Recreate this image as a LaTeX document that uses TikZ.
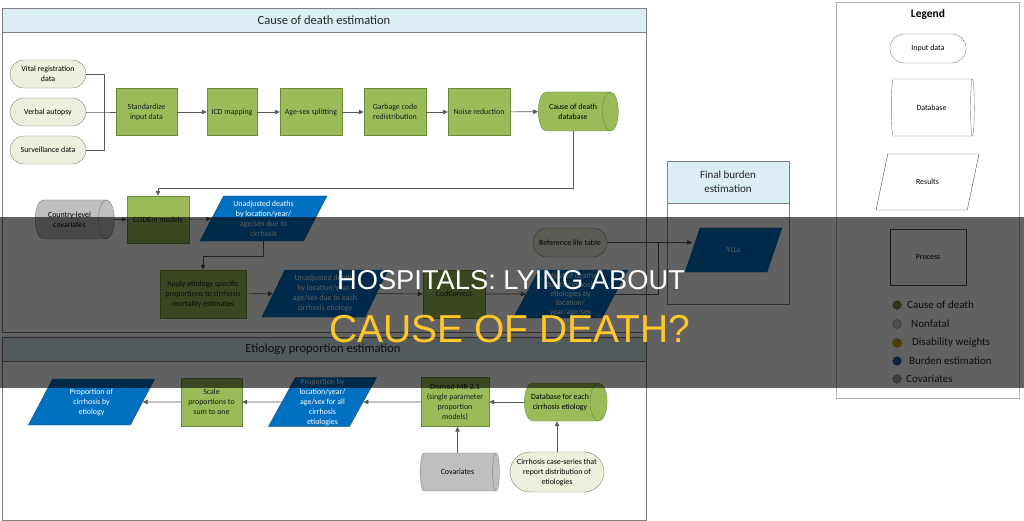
\documentclass[tikz,border=0pt]{standalone}
\usepackage{fontspec}
\setmainfont{Carlito}
\newfontfamily\headfont{Liberation Sans}
\usetikzlibrary{arrows.meta,positioning,shapes.geometric}
\definecolor{procgreen}{HTML}{9BBB59}
\definecolor{procline}{HTML}{6F8A3A}
\definecolor{resblue}{HTML}{0070C0}
\definecolor{resline}{HTML}{1F4E79}
\definecolor{cylgray}{HTML}{BFBFBF}
\definecolor{inputbg}{HTML}{EBF1DE}
\definecolor{edgegray}{HTML}{7F7F7F}
\definecolor{linegray}{HTML}{595959}
\definecolor{titlebg}{HTML}{DAEEF3}
\definecolor{dotgreen}{HTML}{77933C}
\definecolor{dotlight}{HTML}{D0D0D0}
\definecolor{dotgold}{HTML}{C9A000}
\definecolor{dotblue}{HTML}{1F63A8}
\definecolor{dotgray}{HTML}{A6A6A6}
\definecolor{headyellow}{HTML}{FFC72C}

\begin{document}
\begin{tikzpicture}[x=1pt,y=-1pt,
  lbl/.style={font=\fontsize{7.9}{10}\selectfont, align=center, inner sep=1pt},
  ttl/.style={font=\fontsize{12.5}{14}\selectfont, text=black!85, inner sep=0pt},
  frame/.style={draw=edgegray, line width=0.6pt},
  proc/.style={lbl, draw=procline, fill=procgreen, text=black!90, minimum width=62pt, minimum height=47pt},
  inp/.style={lbl, draw=edgegray, fill=inputbg, rounded corners=14pt, minimum width=76pt, minimum height=28pt},
  dbase/.style={lbl, cylinder, shape aspect=0.9, draw=edgegray, fill=cylgray, minimum height=79pt, minimum width=38pt},
  gdbase/.style={dbase, draw=procline, fill=procgreen},
  res/.style={lbl, trapezium, trapezium left angle=64, trapezium right angle=116, trapezium stretches=true, draw=resline, fill=resblue, text=white},
  link/.style={draw=linegray, line width=0.6pt},
  arr/.style={link, -{Triangle[length=5pt,width=4.5pt]}}]
\useasboundingbox (0,0) rectangle (1024,521);
\fill[white] (0,0) rectangle (1024,521);

% section frames
\draw[frame, fill=white] (2,8) rectangle (646,332);
\draw[frame, fill=titlebg] (2,8) rectangle (646,32);
\node[ttl] (cdtitle) at (324,20) {Cause of death estimation};
\draw[frame, fill=white] (2,337) rectangle (646,520);
\draw[frame, fill=titlebg] (2,337) rectangle (646,361);
\node[ttl] (eptitle) at (323,349) {Etiology proportion estimation};
\draw[frame, fill=white] (667,161) rectangle (789,304);
\draw[frame, fill=titlebg] (667,161) rectangle (789,203);
\node[ttl, font=\fontsize{11}{14}\selectfont, align=center] (fbtitle) at (728,182) {Final burden\\estimation};
\draw[draw=black!30, line width=0.6pt] (836,2) rectangle (1019,398);

% cause of death estimation
\node[inp] (vr) at (48,74) {Vital registration\\data};
\node[inp] (va) at (48,112) {Verbal autopsy};
\node[inp] (sv) at (48,150) {Surveillance data};
\coordinate (jn) at (104,112);
\node[proc, minimum width=61pt] (std) at (146.5,112) {Standardize\\input data};
\node[proc, minimum width=50pt] (icd) at (232,112) {ICD mapping};
\node[proc] (ags) at (311,112) {Age-sex splitting};
\node[proc] (gcr) at (395,112) {Garbage code\\redistribution};
\node[proc] (nrd) at (479,112) {Noise reduction};
\node[gdbase, minimum height=80pt, minimum width=39pt] (cdb) at (573,111.5) {Cause of death\\database};

\node[dbase, minimum width=39pt] (ccov) at (69.5,219.5) {Country-level\\covariates};
\node[proc] (codem) at (158,219.5) {CODEm models};
\node[res, minimum width=127pt, minimum height=45pt] (ud1) at (263.5,218.5) {Unadjusted deaths\\by location/year/\\age/sex due to\\cirrhosis};
\node[proc, minimum width=86pt, minimum height=48pt] (apl) at (203,294) {Apply etiology specific\\proportions to cirrhosis\\mortality estimates};
\node[res, minimum width=126pt, minimum height=47pt] (ud2) at (325,293.5) {Unadjusted deaths\\by location/year/\\age/sex due to each\\cirrhosis etiology};
\node[proc, minimum height=48pt] (codc) at (454,294) {CodCorrect};
\node[res, minimum width=115pt, minimum height=48pt, font=\fontsize{7.9}{9}\selectfont] (adj) at (570.5,294) {Adjusted deaths\\due to cirrhosis\\etiologies by\\location/\\year/age/sex};
\node[inp, minimum width=74pt, minimum height=29pt] (rlt) at (570,242.5) {Reference life table};
\node[res, minimum width=97pt, minimum height=44pt] (yll) at (733.5,250) {YLLs};
\coordinate (mrg) at (658,242.5);

% etiology proportion estimation
\node[res, minimum width=127pt, minimum height=46pt] (pce) at (91.5,402) {Proportion of\\cirrhosis by\\etiology};
\node[proc, minimum width=61pt, minimum height=48pt] (scl) at (211.5,402) {Scale\\proportions to\\sum to one};
\node[res, minimum width=109pt, minimum height=48pt] (pby) at (322.5,402) {Proportion by\\location/year/\\age/sex for all\\cirrhosis\\etiologies};
\node[proc, minimum width=68pt, minimum height=49pt] (dis) at (455,402) {Dismod-MR 2.1\\(single parameter\\proportion\\models)};
\node[gdbase, minimum height=80pt] (dbe) at (560,402) {Database for each\\cirrhosis etiology};
\node[dbase] (covb) at (457.5,472) {Covariates};
\node[inp, minimum width=94pt, minimum height=40pt, rounded corners=20pt] (ccs) at (557,472) {Cirrhosis case-series that\\report distribution of\\etiologies};

% connectors
\draw[link] (vr.east) -| (jn);
\draw[link] (sv.east) -| (jn);
\draw[link] (va.east) -- (jn) -- (std.west);
\draw[arr] (std) -- (icd);
\draw[arr] (icd) -- (ags);
\draw[arr] (ags) -- (gcr);
\draw[arr] (gcr) -- (nrd);
\draw[arr] (nrd) -- (cdb);
\draw[arr] (cdb.south) -- ++(0,57.5) -| (codem.north);
\draw[arr] (ccov) -- (codem);
\draw[arr] (codem) -- (ud1);
\draw[arr] (ud1.south) -- ++(0,15) -| (apl.north);
\draw[arr] (apl) -- (ud2);
\draw[arr] (ud2) -- (codc);
\draw[arr] (codc) -- (adj);
\draw[link] (adj.east) -| (mrg);
\draw[arr] (rlt.east) -- (rlt.east -| yll.west);
\draw[arr] (dbe) -- (dis);
\draw[arr] (dis) -- (pby);
\draw[arr] (pby) -- (scl);
\draw[arr] (scl) -- (pce);
\draw[arr] (covb.north) -- (covb.north |- dis.south);
\draw[arr] (ccs.north) -- (ccs.north |- dbe.south);

% legend
\node[font=\fontsize{11.5}{14}\selectfont\bfseries] (legtitle) at (928,14) {Legend};
\node[inp, fill=white, minimum height=29pt] (leginp) at (928,48.5) {Input data};
\node[dbase, fill=white, shape aspect=0.5, minimum height=83pt, minimum width=57pt] (legdb) at (931.5,107.5) {Database};
\node[res, fill=white, text=black, draw=black!70, minimum width=103pt, minimum height=56pt] (legres) at (927.5,182) {Results};
\node[lbl, draw=black!70, minimum width=76pt, minimum height=56pt] (legproc) at (928,257) {Process};
\foreach \yy/\cc/\dx/\txt [count=\i] in {305/dotgreen/0/Cause of death, 324/dotlight/4/Nonfatal, 343/dotgold/5/Disability weights, 361/dotblue/2/Burden estimation, 379/dotgray/-1/Covariates}{
  \fill[\cc, draw=black!45, line width=0.4pt] (897,\yy) circle (4.5pt);
  \node[anchor=west, inner sep=0pt, font=\fontsize{11}{13}\selectfont, text=black!85] (key\i) at (907+\dx,\yy) {\txt};}

% title band
\fill[black, opacity=0.62] (0,217) rectangle (1024,388);
\node[font=\headfont\fontsize{27.3}{30}\selectfont, text=white, inner sep=0pt] (headA) at (511,280.5) {HOSPITALS: LYING ABOUT};
\node[font=\headfont\fontsize{39}{42}\selectfont, text=headyellow, inner sep=0pt] (headB) at (510,329) {CAUSE OF DEATH?};
\end{tikzpicture}
\end{document}
